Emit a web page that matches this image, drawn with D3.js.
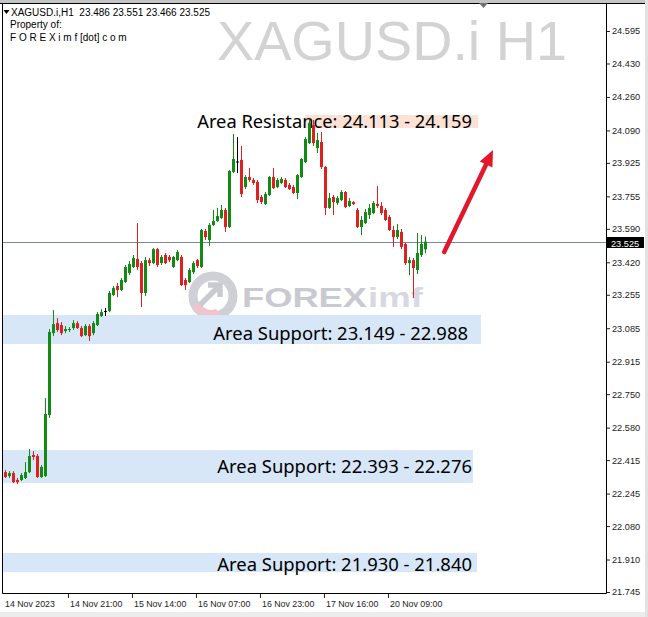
<!DOCTYPE html>
<html><head><meta charset="utf-8">
<script src="https://cdn.jsdelivr.net/npm/d3@7"></script>
<style>body{margin:0;background:#fff}svg{display:block}</style>
</head><body>
<script>
// ---- DATA (XAGUSD.i H1, bar index 0..105) ----
const opens = [22.354,22.334,22.349,22.314,22.314,22.324,22.354,22.441,22.436,22.329,
22.334,22.644,23.060,23.111,23.101,23.071,23.076,23.086,23.111,23.086,
23.050,23.096,23.060,23.101,23.147,23.172,23.172,23.254,23.299,23.279,
23.320,23.365,23.396,23.437,23.416,23.264,23.431,23.416,23.487,23.416,
23.457,23.447,23.396,23.431,23.447,23.330,23.320,23.370,23.431,23.396,
23.579,23.533,23.609,23.630,23.645,23.686,23.599,23.879,23.932,23.940,
23.802,23.853,23.838,23.828,23.752,23.716,23.762,23.853,23.802,23.823,
23.838,23.813,23.802,23.772,23.853,23.929,24.026,24.117,24.000,24.031,
23.904,23.696,23.752,23.721,23.736,23.777,23.706,23.726,23.686,23.599,
23.619,23.660,23.670,23.716,23.706,23.686,23.650,23.584,23.548,23.574,
23.513,23.416,23.431,23.381,23.457,23.486];
const highs = [22.364,22.359,22.359,22.324,22.349,22.405,22.471,22.461,22.446,22.390,
22.730,23.080,23.177,23.137,23.116,23.096,23.091,23.126,23.121,23.096,
23.106,23.106,23.121,23.167,23.182,23.188,23.274,23.299,23.315,23.340,
23.406,23.426,23.457,23.619,23.426,23.447,23.442,23.492,23.492,23.457,
23.467,23.457,23.452,23.482,23.457,23.340,23.391,23.426,23.437,23.589,
23.589,23.619,23.686,23.696,23.711,23.696,23.889,24.072,24.056,24.011,
23.863,23.899,23.848,23.838,23.762,23.777,23.858,23.899,23.848,23.853,
23.848,23.823,23.813,23.868,23.950,24.056,24.143,24.143,24.077,24.082,
23.909,23.772,23.762,23.757,23.787,23.782,23.746,23.731,23.696,23.655,
23.691,23.716,23.731,23.807,23.726,23.696,23.660,23.604,23.614,23.589,
23.518,23.447,23.442,23.569,23.558,23.551];
const lows = [22.324,22.324,22.298,22.293,22.308,22.319,22.349,22.415,22.324,22.324,
22.329,22.629,23.045,23.066,23.050,23.060,23.066,23.076,23.081,23.040,
23.045,23.020,23.050,23.096,23.142,23.147,23.167,23.249,23.243,23.274,
23.315,23.355,23.391,23.381,23.193,23.249,23.401,23.411,23.396,23.406,
23.411,23.421,23.391,23.426,23.299,23.279,23.315,23.360,23.391,23.391,
23.533,23.503,23.604,23.625,23.640,23.574,23.594,23.873,23.873,23.752,
23.792,23.828,23.813,23.721,23.716,23.711,23.757,23.792,23.797,23.818,
23.797,23.787,23.767,23.741,23.848,23.924,24.021,24.011,23.975,23.894,
23.660,23.691,23.660,23.711,23.731,23.696,23.701,23.711,23.594,23.558,
23.614,23.640,23.665,23.696,23.660,23.630,23.579,23.498,23.538,23.487,
23.406,23.355,23.238,23.360,23.447,23.466];
const closes = [22.329,22.349,22.303,22.303,22.339,22.354,22.436,22.431,22.329,22.380,
22.649,23.066,23.106,23.076,23.060,23.081,23.081,23.111,23.086,23.045,
23.096,23.045,23.111,23.157,23.167,23.172,23.264,23.289,23.279,23.330,
23.396,23.411,23.442,23.396,23.264,23.431,23.416,23.487,23.406,23.447,
23.416,23.431,23.447,23.472,23.304,23.304,23.381,23.416,23.401,23.584,
23.548,23.609,23.630,23.655,23.686,23.599,23.884,23.945,23.932,23.767,
23.853,23.838,23.823,23.736,23.726,23.767,23.853,23.797,23.838,23.843,
23.802,23.792,23.772,23.863,23.945,24.046,24.128,24.026,24.041,23.904,
23.696,23.746,23.726,23.746,23.777,23.701,23.731,23.716,23.599,23.635,
23.675,23.696,23.721,23.706,23.670,23.635,23.584,23.548,23.584,23.498,
23.416,23.431,23.391,23.467,23.513,23.525];

const timeLabels = ["14 Nov 2023","14 Nov 21:00","15 Nov 14:00","16 Nov 07:00","16 Nov 23:00","17 Nov 16:00","20 Nov 09:00"];
const timeLabelBars = [0,16,32,48,64,80,96];
const priceTicks = [24.595,24.430,24.260,24.090,23.925,23.755,23.590,23.420,23.255,23.085,22.915,22.750,22.580,22.415,22.245,22.080,21.910,21.745];
const lastPrice = 23.525;

// zones: [low, high, endBar]
const supportLows  = [23.005, 22.298, 21.846];
const supportHighs = [23.152, 22.466, 21.943];
const supportEnds  = [119, 117, 118];
const supportTexts = ["Area Support: 23.149 - 22.988","Area Support: 22.393 - 22.276","Area Support: 21.930 - 21.840"];
const resistZone = [24.102, 24.168];
const resistBars = [75, 118.3];
const resistText = "Area Resistance: 24.113 - 24.159";
const arrowFrom = [109.8, 23.472];
const arrowTo = [122, 23.990];

// ---- DRAW ----
const W=648, H=617;
const P={l:3,t:4,r:606,b:593};
const svg=d3.select("body").append("svg").attr("width",W).attr("height",H)
  .style("font-family","'Liberation Sans', Arial, sans-serif");
svg.append("rect").attr("width",W).attr("height",H).attr("fill","#fff");
// frame strips
svg.append("rect").attr("x",0).attr("y",0).attr("width",W).attr("height",3).attr("fill","#c4c4c4");
svg.append("rect").attr("x",0).attr("y",612).attr("width",W).attr("height",5).attr("fill","#ececec");
svg.append("rect").attr("x",645).attr("y",0).attr("width",3).attr("height",H).attr("fill","#e2e2e2");

const x=d3.scaleLinear().domain([0,105]).range([5,425]);
const y=d3.scaleLinear().domain([21.745,24.595]).range([592,31]);

svg.append("clipPath").attr("id","clip").append("rect")
  .attr("x",P.l).attr("y",P.t).attr("width",P.r-P.l).attr("height",P.b-P.t);
const g=svg.append("g").attr("clip-path","url(#clip)");

// watermark symbol
g.append("text").attr("x",217).attr("y",60).attr("font-size",55.5).attr("fill","#d3d3d3")
  .attr("textLength",350).attr("lengthAdjust","spacingAndGlyphs").text("XAGUSD.i H1");

// FOREXimf watermark
const wm=g.append("g");
wm.append("circle").attr("cx",213).attr("cy",296).attr("r",20).attr("fill","none")
  .attr("stroke","#cfd0d6").attr("stroke-width",9);
wm.append("path").attr("d","M193,306 A21,21 0 0 0 223,317 L216,309 A12,12 0 0 1 200,302 Z").attr("fill","#f1c3cd");
wm.append("path").attr("d","M200,305 L219,286 M208,285 L220,285 L220,297").attr("fill","none")
  .attr("stroke","#cacbd2").attr("stroke-width",5.5);
wm.append("text").attr("x",242).attr("y",307).attr("font-size",28).attr("font-weight","bold")
  .attr("fill","#c9cad1").attr("textLength",125).attr("lengthAdjust","spacingAndGlyphs").text("FOREX");
wm.append("text").attr("x",368).attr("y",307).attr("font-size",28).attr("font-weight","bold")
  .attr("fill","#d8d8e2").attr("textLength",55).attr("lengthAdjust","spacingAndGlyphs").text("imf");

// zones
supportLows.forEach((lo,i)=>{
  g.append("rect").attr("x",x(-3)).attr("width",x(supportEnds[i])-x(-3))
   .attr("y",y(supportHighs[i])).attr("height",y(lo)-y(supportHighs[i])).attr("fill","#d7e7f7");
});
g.append("rect").attr("x",x(resistBars[0])).attr("width",x(resistBars[1])-x(resistBars[0]))
  .attr("y",y(resistZone[1])).attr("height",y(resistZone[0])-y(resistZone[1])).attr("fill","#fbe2d5");

// zone labels
function fitText(t, x1, base, w){
  const el=g.append("text").attr("x",x1).attr("y",base).attr("text-anchor","end")
    .attr("font-family","'Noto Sans', sans-serif").attr("font-size",18).attr("fill","#000").text(t);
  const m=el.node().getComputedTextLength();
  el.attr("font-size",18*w/m);
}
fitText(resistText, 472, 128, 275);
fitText(supportTexts[0], 468, 340, 255);
fitText(supportTexts[1], 472, 473, 255);
fitText(supportTexts[2], 472, 571, 255);

// last price line
g.append("line").attr("x1",P.l).attr("x2",P.r).attr("y1",Math.round(y(lastPrice))+0.5).attr("y2",Math.round(y(lastPrice))+0.5)
  .attr("stroke","#7a8a9a").attr("stroke-width",1);

// candles
const idx=d3.range(opens.length);
const col=i=> closes[i]>opens[i] ? "#138a13" : (closes[i]<opens[i] ? "#dd2020" : "#000");
const cg=g.append("g");
idx.forEach(i=>{
  const cx=Math.round(x(i));
  cg.append("line").attr("x1",cx+0.5).attr("x2",cx+0.5).attr("y1",y(highs[i])).attr("y2",y(lows[i]))
    .attr("stroke",col(i)).attr("stroke-width",1);
  const top=Math.min(y(opens[i]),y(closes[i])), bot=Math.max(y(opens[i]),y(closes[i]));
  cg.append("rect").attr("x",cx-1).attr("width",3).attr("y",top).attr("height",Math.max(1,bot-top)).attr("fill",col(i));
});

// arrow
const ax1=x(arrowFrom[0]), ay1=y(arrowFrom[1]), ax2=x(arrowTo[0]), ay2=y(arrowTo[1]);
const ang=Math.atan2(ay2-ay1, ax2-ax1);
const hl=16, hw=7;
const bx=ax2-hl*Math.cos(ang), by=ay2-hl*Math.sin(ang);
g.append("line").attr("x1",ax1).attr("y1",ay1).attr("x2",bx).attr("y2",by)
  .attr("stroke","#e3162b").attr("stroke-width",4.5).attr("stroke-linecap","round");
g.append("path").attr("d",`M${ax2},${ay2} L${bx+hw*Math.sin(ang)},${by-hw*Math.cos(ang)} L${bx-hw*Math.sin(ang)},${by+hw*Math.cos(ang)} Z`)
  .attr("fill","#e3162b");

// header texts
const hdr=svg.append("g").attr("font-size",10).attr("fill","#000");
hdr.append("path").attr("d","M3.5,10 L9.5,10 L6.5,14 Z").attr("fill","#000");
hdr.append("text").attr("x",11).attr("y",15.5).text("XAGUSD.i,H1  23.486 23.551 23.466 23.525").style("white-space","pre");
hdr.append("text").attr("x",10).attr("y",28).text("Property of:");
hdr.append("text").attr("x",10).attr("y",40.5).text("F O R E X i m f [dot] c o m");

// frame
svg.append("line").attr("x1",0).attr("x2",W-3).attr("y1",3.5).attr("y2",3.5).attr("stroke","#000");
svg.append("line").attr("x1",2.5).attr("x2",2.5).attr("y1",3.5).attr("y2",P.b+0.5).attr("stroke","#000");
svg.append("line").attr("x1",P.r+0.5).attr("x2",P.r+0.5).attr("y1",3.5).attr("y2",P.b+0.5).attr("stroke","#000");
svg.append("line").attr("x1",2.5).attr("x2",P.r+0.5).attr("y1",P.b+0.5).attr("y2",P.b+0.5).attr("stroke","#000");
// shift marker
svg.append("path").attr("d","M479,3 L488,3 L483.5,8 Z").attr("fill","#707070");

// right axis
const ra=svg.append("g").attr("transform",`translate(${P.r+1},0)`);
ra.call(d3.axisRight(y).tickValues(priceTicks).tickFormat(d3.format(".3f")).tickSize(3).tickPadding(2))
  .call(s=>s.select(".domain").remove())
  .call(s=>s.selectAll("text").attr("font-size",9.2).attr("fill","#222").attr("font-family","'Liberation Sans', Arial, sans-serif"))
  .call(s=>s.selectAll("line").attr("stroke","#222"));
// price tag
svg.append("rect").attr("x",P.r+1).attr("y",Math.round(y(lastPrice))-5).attr("width",37).attr("height",11).attr("fill","#000");
svg.append("text").attr("x",P.r+5).attr("y",Math.round(y(lastPrice))+4.5).attr("font-size",9.2).attr("fill","#fff")
  .text(d3.format(".3f")(lastPrice));

// bottom axis
const ba=svg.append("g");
timeLabelBars.forEach((b,i)=>{
  const tx=Math.round(x(b));
  if(i>0) ba.append("line").attr("x1",tx-0.5).attr("x2",tx-0.5).attr("y1",P.b+1).attr("y2",P.b+5).attr("stroke","#222");
  ba.append("text").attr("x",tx+ (i>0?1:0)).attr("y",607).attr("font-size",8.8).attr("fill","#222").text(timeLabels[i]);
});
</script>
</body></html>
